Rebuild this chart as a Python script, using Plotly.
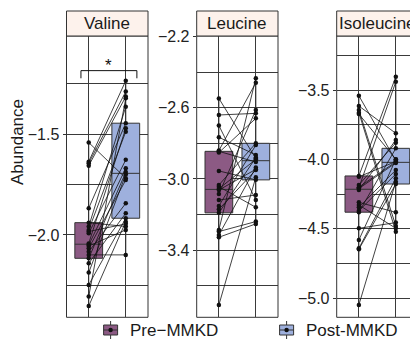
import plotly.graph_objects as go

# ---------------- data ----------------
groups = ["Pre\u2212MMKD", "Post-MMKD"]
panels = ["Valine", "Leucine", "Isoleucine"]

valine_pre = [-1.541, -1.636, -1.644, -1.656, -1.867, -1.939, -1.958, -1.975, -1.983, -1.992, -2.042,
              -2.050, -2.055, -2.066, -2.083, -2.099, -2.116, -2.141, -2.187, -2.248, -2.306, -2.353]
valine_post = [-1.718, -1.234, -1.288, -1.313, -1.445, -1.958, -1.363, -1.487, -1.945, -1.627, -1.470,
               -1.669, -1.975, -1.727, -1.843, -2.099, -1.688, -1.892, -1.700, -1.917, -1.321, -1.934]

leucine_pre = [-2.548, -2.641, -2.700, -2.766, -2.841, -2.845, -2.852, -2.955, -3.034, -3.043, -3.055,
               -3.062, -3.084, -3.118, -3.151, -3.170, -3.190, -3.286, -3.295, -3.314, -3.327, -3.707]
leucine_post = [-2.885, -2.632, -3.118, -2.865, -2.460, -2.905, -2.660, -3.005, -2.800, -3.159, -2.890,
                -2.946, -2.613, -3.090, -2.810, -2.950, -2.880, -2.435, -3.239, -2.935, -3.252, -2.990]

isoleucine_pre = [-3.541, -3.615, -3.644, -3.663, -3.673, -4.119, -4.125, -4.184, -4.200, -4.205, -4.210,
                  -4.220, -4.309, -4.328, -4.345, -4.370, -4.380, -4.496, -4.580, -4.640, -4.647, -5.048]
isoleucine_post = [-4.010, -3.812, -4.479, -4.520, -3.999, -3.404, -4.015, -3.879, -4.017, -3.440, -4.025,
                   -3.860, -4.381, -4.496, -4.076, -4.105, -3.920, -4.455, -4.000, -4.136, -4.177, -4.160]

y_ranges = [[-2.409, -1.012], [-3.776, -2.198], [-5.137, -3.111]]
major_ticks = [[-2.0, -1.5], [-3.4, -3.0, -2.6, -2.2], [-5.0, -4.5, -4.0, -3.5]]
major_labels = [["\u22122.0", "\u22121.5"], ["\u22123.4", "\u22123.0", "\u22122.6", "\u22122.2"],
                ["\u22125.0", "\u22124.5", "\u22124.0", "\u22123.5"]]
minor_ticks = [[-2.25, -1.75, -1.25], [-3.6, -3.2, -2.8, -2.4], [-4.75, -4.25, -3.75, -3.25]]

sig_label = "*"

# ---------------- styling ----------------
# page body has an 8px margin, so the figure starts at (8, 8) of the window
OFF = 8
W, H = 410, 334
FONT = "Liberation Sans, Arial, Helvetica, sans-serif"
PRE_FILL = "#8C5A84"
POST_FILL = "#9EB0DD"
EDGE = "#333333"
GRID = "#3a3a3a"

def px(x):
    return (x - OFF) / W

def py(y):
    return 1 - (y - OFF) / H

panel_x = [(66.5, 148.0), (196.7, 278.0), (336.7, 418.0)]
panel_top, panel_bot = 36.0, 317.3
strip_top = 11.0

data_sets = [(valine_pre, valine_post), (leucine_pre, leucine_post), (isoleucine_pre, isoleucine_post)]

fig = go.Figure()
shapes = []
annotations = []

for i, (pre, post) in enumerate(data_sets):
    sfx = "" if i == 0 else str(i + 1)
    xa, ya = "x" + sfx, "y" + sfx
    for vals, xpos, fill in ((pre, 0, PRE_FILL), (post, 1, POST_FILL)):
        fig.add_trace(go.Box(
            x=[xpos] * len(vals), y=vals, width=0.75, fillcolor=fill,
            line=dict(color=EDGE, width=1), boxpoints=False, whiskerwidth=0,
            xaxis=xa, yaxis=ya, showlegend=False, hoverinfo="skip"))
    lx, ly = [], []
    for a, b in zip(pre, post):
        lx += [0, 1, None]
        ly += [a, b, None]
    fig.add_trace(go.Scatter(x=lx, y=ly, mode="lines", line=dict(color="#111111", width=0.8),
                             xaxis=xa, yaxis=ya, showlegend=False, hoverinfo="skip"))
    fig.add_trace(go.Scatter(x=[0] * len(pre) + [1] * len(post), y=pre + post, mode="markers",
                             marker=dict(color="#111111", size=4.5),
                             xaxis=xa, yaxis=ya, showlegend=False, hoverinfo="skip"))

    x0, x1 = panel_x[i]
    fig.layout["xaxis" + sfx] = dict(
        domain=[px(x0), min(px(x1), 1.0)], range=[-0.6, 1.6], tickvals=[0, 1], showticklabels=False,
        showgrid=True, gridcolor=GRID, gridwidth=1, zeroline=False, showline=False, ticks="",
        anchor=ya, fixedrange=True, automargin=False)
    fig.layout["yaxis" + sfx] = dict(
        domain=[py(panel_bot), py(panel_top)], range=y_ranges[i], tickvals=major_ticks[i],
        ticktext=major_labels[i], showgrid=True, gridcolor=GRID, gridwidth=1, zeroline=False,
        showline=False, ticks="outside", ticklen=3, tickcolor=EDGE, tickwidth=1,
        tickfont=dict(size=16, color="#222222", family=FONT),
        minor=dict(tickvals=minor_ticks[i], showgrid=True, gridcolor=GRID, gridwidth=1, ticks=""),
        anchor=xa, fixedrange=True, automargin=False)

    # panel border
    shapes.append(dict(type="rect", xref=xa + " domain", yref=ya + " domain", x0=0, x1=1, y0=0, y1=1,
                       line=dict(color=EDGE, width=1), layer="above"))
    # strip
    shapes.append(dict(type="rect", xref="paper", yref="paper", x0=px(x0), x1=px(x1),
                       y0=py(panel_top), y1=py(strip_top), fillcolor="#FDF2EC",
                       line=dict(color=EDGE, width=1)))
    annotations.append(dict(text=panels[i], xref="paper", yref="paper", x=px((x0 + x1) / 2),
                            y=py((strip_top + panel_top) / 2), showarrow=False,
                            font=dict(size=17, color="#1a1a1a", family=FONT),
                            xanchor="center", yanchor="middle"))

# significance bracket on Valine
br_top, br_tick = -1.184, -1.222
fig.add_trace(go.Scatter(x=[-0.21, -0.21, 1.30, 1.30], y=[br_tick, br_top, br_top, br_tick],
                         mode="lines", line=dict(color="#111111", width=1),
                         xaxis="x", yaxis="y", showlegend=False, hoverinfo="skip"))
annotations.append(dict(text=sig_label, x=0.545, y=br_top, xref="x", yref="y", showarrow=False,
                        font=dict(size=17, color="#111111", family=FONT), yanchor="bottom",
                        yshift=-6))

# y title
annotations.append(dict(text="Abundance", xref="paper", yref="paper", x=px(17.5), y=py(142.5),
                        textangle=-90, showarrow=False, font=dict(size=17, color="#1a1a1a", family=FONT),
                        xanchor="center", yanchor="middle"))

# legend (custom key glyphs)
legend_y = 330.0
for cx, fill, label in ((110.6, PRE_FILL, groups[0]), (286.6, POST_FILL, groups[1])):
    shapes.append(dict(type="line", xref="paper", yref="paper", x0=px(cx), x1=px(cx),
                       y0=py(321), y1=py(339), line=dict(color=EDGE, width=1)))
    shapes.append(dict(type="rect", xref="paper", yref="paper", x0=px(cx - 7), x1=px(cx + 7),
                       y0=py(335), y1=py(325), fillcolor=fill, line=dict(color=EDGE, width=1)))
    shapes.append(dict(type="line", xref="paper", yref="paper", x0=px(cx - 7), x1=px(cx + 7),
                       y0=py(legend_y), y1=py(legend_y), line=dict(color=EDGE, width=1)))
    shapes.append(dict(type="circle", xref="paper", yref="paper", x0=px(cx - 2.2), x1=px(cx + 2.2),
                       y0=py(legend_y + 2.2), y1=py(legend_y - 2.2), fillcolor="#111111",
                       line=dict(color="#111111", width=0)))
    annotations.append(dict(text=label, xref="paper", yref="paper", x=px(cx + 17), y=py(legend_y),
                            showarrow=False, xanchor="left", yanchor="middle",
                            font=dict(size=17, color="#1a1a1a", family=FONT)))

fig.update_layout(
    width=W, height=H, margin=dict(l=0, r=0, t=0, b=0),
    paper_bgcolor="white", plot_bgcolor="white",
    shapes=shapes, annotations=annotations, boxmode="overlay",
    font=dict(family=FONT), showlegend=False)

fig.write_html("out.html")
